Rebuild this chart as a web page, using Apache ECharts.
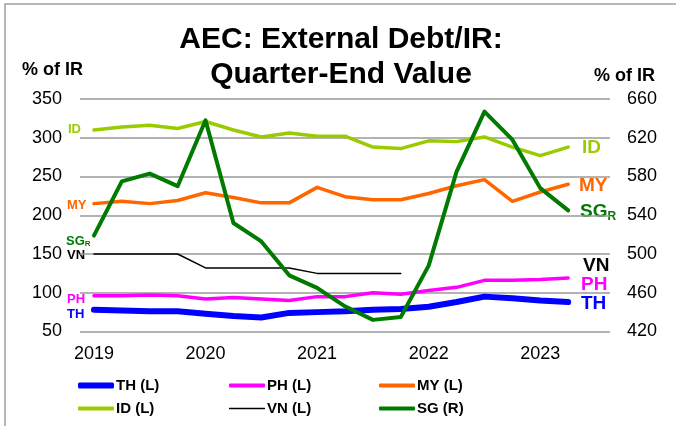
<!DOCTYPE html>
<html>
<head>
<meta charset="utf-8">
<script src="https://cdn.jsdelivr.net/npm/echarts@6/dist/echarts.min.js"></script>
<style>
  html, body { margin: 0; padding: 0; background: #fff; }
  #chart { width: 676px; height: 426px; }
</style>
</head>
<body>
<div id="chart"></div>
<script>
// quarter-end values, 2019Q1 .. 2023Q2 (+ one empty slot for 2023Q3)
const quarters = ['2019Q1','2019Q2','2019Q3','2019Q4','2020Q1','2020Q2','2020Q3','2020Q4',
  '2021Q1','2021Q2','2021Q3','2021Q4','2022Q1','2022Q2','2022Q3','2022Q4',
  '2023Q1','2023Q2','2023Q3']

const thData = [78, 77, 76, 76, 73, 70, 68, 74, 75, 76, 78, 79, 82, 88, 95, 93, 90, 88]
const phData = [96, 96, 97, 96, 92, 94, 92, 90, 95, 95, 100, 98, 103, 107, 116, 116, 117, 119]
const myData = [215, 218, 215, 219, 229, 223, 216, 216, 236, 224, 220, 220, 228, 238, 246, 218, 230, 240]
const idData = [310, 314, 316, 312, 321, 310, 301, 306, 302, 302, 288, 286, 296, 295, 301, 288, 277, 288]
const vnData = [150, 150, 150, 150, 132, 132, 132, 132, 125, 125, 125, 125]
// SG is on the right axis
const sgData = [519, 575, 583, 570, 638, 532, 513, 478, 465, 446, 432, 435, 488, 585, 647, 618, 568, 545]

const leftTicks = [50, 350, 50]   // min, max, interval
const rightTicks = [420, 660, 40]

const C = {
  th: '#0000FF',
  ph: '#FF00FF',
  my: '#FF6600',
  id: '#99CC00',
  vn: '#000000',
  sg: '#007A00'
}

const font = 'Liberation Sans, Arial, sans-serif'

function line(name, data, color, width, yIndex) {
  return {
    name: name,
    type: 'line',
    data: data,
    yAxisIndex: yIndex || 0,
    symbol: 'none',
    smooth: false,
    lineStyle: {color: color, width: width, cap: 'round', join: 'round'},
    itemStyle: {color: color},
    animation: false
  }
}

// one legend per entry so each key gets its own thickness
function legendItem(left, top, name, thick) {
  return {
    left: left,
    top: top - 9,
    height: 18,
    icon: 'roundRect',
    itemWidth: 36,
    itemHeight: thick,
    data: [name],
    textStyle: {fontFamily: font, fontSize: 15, fontWeight: 'bold', color: '#000', padding: [0, 0, 0, -3]}
  }
}

// small series tags beside the lines (left start + right end), y = centre
function tag(x, y, text, color, size) {
  return {
    type: 'text',
    x: x, y: y,
    style: {
      text: text,
      fill: color,
      font: 'bold ' + size + 'px ' + font,
      verticalAlign: 'middle'
    }
  }
}

function sgTag(x, y, size) {
  return {
    type: 'text',
    x: x, y: y,
    style: {
      text: '{a|SG}{b|R}',
      verticalAlign: 'middle',
      rich: {
        a: {fill: C.sg, fontFamily: font, fontWeight: 'bold', fontSize: size},
        b: {fill: C.sg, fontFamily: font, fontWeight: 'bold', fontSize: Math.round(size * 0.62), padding: [size * 0.45, 0, 0, 0]}
      }
    }
  }
}

const chart = echarts.init(document.getElementById('chart'), null, {renderer: 'canvas'})

chart.setOption({
  backgroundColor: '#fff',
  animation: false,
  title: {
    text: 'AEC: External Debt/IR:\nQuarter-End Value',
    left: 336,
    top: 17,
    textAlign: 'center',
    textStyle: {fontFamily: font, fontSize: 30, fontWeight: 'bold', color: '#000', lineHeight: 35}
  },
  grid: {left: 80, right: 66, top: 99, bottom: 94.5},
  legend: [
    legendItem(73, 382, 'TH (L)', 6),
    legendItem(224, 382, 'PH (L)', 4),
    legendItem(374, 382, 'MY (L)', 4),
    legendItem(73, 405, 'ID (L)', 4),
    legendItem(224, 405, 'VN (L)', 1.5),
    legendItem(374, 405, 'SG (R)', 4)
  ],
  xAxis: {
    type: 'category',
    data: quarters,
    boundaryGap: true,
    axisLine: {show: false},
    axisTick: {show: false},
    axisLabel: {
      interval: 3,
      margin: 14,
      fontFamily: font,
      fontSize: 18,
      color: '#000',
      formatter: v => v.slice(0, 4)
    }
  },
  yAxis: [
    {
      type: 'value',
      min: leftTicks[0], max: leftTicks[1], interval: leftTicks[2],
      axisLine: {show: false},
      axisTick: {show: false},
      axisLabel: {margin: 18, fontFamily: font, fontSize: 18, color: '#000'},
      splitLine: {lineStyle: {color: '#9A9A9A', width: 1.5}}
    },
    {
      type: 'value',
      min: rightTicks[0], max: rightTicks[1], interval: rightTicks[2],
      axisLine: {show: false},
      axisTick: {show: false},
      axisLabel: {margin: 17, fontFamily: font, fontSize: 18, color: '#000'},
      splitLine: {show: false}
    }
  ],
  series: [
    line('TH (L)', thData, C.th, 6),
    line('PH (L)', phData, C.ph, 3.5),
    line('MY (L)', myData, C.my, 3.5),
    line('ID (L)', idData, C.id, 3.5),
    line('VN (L)', vnData, C.vn, 1.5),
    line('SG (R)', sgData, C.sg, 4, 1)
  ],
  graphic: [
    // frame
    {type: 'rect', shape: {x: 5, y: 4, width: 700, height: 500}, style: {fill: 'none', stroke: '#A0A0A0', lineWidth: 1.5}, silent: true},
    // axis titles
    {type: 'text', left: 22, top: 61, style: {text: '% of IR', font: 'bold 18px ' + font, fill: '#000'}},
    {type: 'text', left: 594, top: 67, style: {text: '% of IR', font: 'bold 18px ' + font, fill: '#000'}},
    // left tags
    tag(68, 129, 'ID', C.id, 13),
    tag(67, 205, 'MY', C.my, 13),
    sgTag(66, 241, 13),
    tag(67, 255, 'VN', C.vn, 13),
    tag(67, 299, 'PH', C.ph, 13),
    tag(67, 314, 'TH', C.th, 13),
    // right tags
    tag(582, 148, 'ID', C.id, 19),
    tag(579, 186, 'MY', C.my, 19),
    sgTag(580, 212, 19),
    tag(583, 266, 'VN', C.vn, 19),
    tag(581, 285, 'PH', C.ph, 19),
    tag(581, 304, 'TH', C.th, 19)
  ]
})
</script>
</body>
</html>
